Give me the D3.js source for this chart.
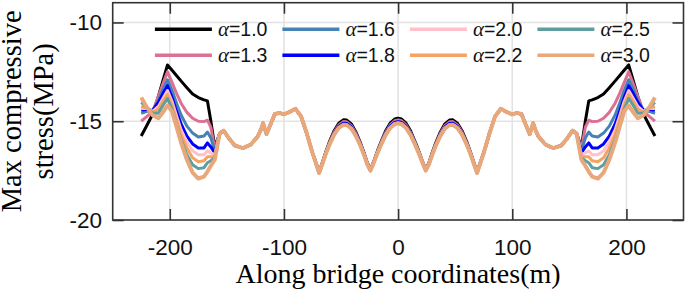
<!DOCTYPE html>
<html lang="en">
<head>
<meta charset="utf-8">
<script src="https://d3js.org/d3.v7.min.js"></script>
<style>
  body { margin: 0; background: #fff; }
  .tick text { font-family: "Liberation Sans", Arial, sans-serif; font-size: 22.5px; fill: #111; }
</style>
</head>
<body>
<svg width="685" height="297" id="chart"></svg>
<script>
// series labels and colours
var alphas = ["1.0", "1.3", "1.6", "1.8", "2.0", "2.2", "2.5", "3.0"];
var colors = ["#000000", "#db7093", "#4682b4", "#0000ff", "#ffc0cb", "#f4a460", "#5f9ea0", "#e8a87c"];

// x positions (m) of the pieces of each curve
var xLeft = [-225, -220, -215, -210, -206, -202, -198, -194, -190, -185, -180, -175, -170, -167, -164, -160.6];
var xRight = [160.6, 164, 167, 170, 175, 180, 185, 190, 194, 198, 202, 206, 210, 215, 220, 225];
var xOuterL = [-156.3, -152.8, -148, -143, -136, -129, -123, -120, -118.3, -115.3, -112, -108, -104, -100, -95, -90, -85, -80, -75];
var xArch = [-69.2, -66, -63, -60, -56, -52, -48, -45, -41, -37, -33, -30, -27, -24.2, -21, -18, -15, -11, -7, -3, 0,
  3, 7, 11, 15, 18, 21, 24.2, 27, 30, 33, 37, 41, 45, 48, 52, 56, 60, 63, 66, 69.2];
var xOuterR = [75, 80, 85, 90, 95, 100, 104, 108, 112, 115.3, 118.3, 120, 123, 129, 136, 143, 148, 152.8, 156.3];

// side spans, stress (MPa), same for all alpha
var outerL = [-15.62, -15.47, -15.88, -16.23, -16.36, -16.18, -15.78, -15.4, -15.1, -15.65, -15.2, -14.63, -14.58, -14.65, -14.53, -14.37, -14.75, -15.62, -16.6];
var outerR = [-16.6, -15.62, -14.75, -14.37, -14.53, -14.65, -14.58, -14.63, -15.2, -15.65, -15.1, -15.4, -15.78, -16.18, -16.36, -16.23, -15.88, -15.47, -15.62];

// central arches, stress (MPa)
var arch10 = [-17.57, -17.03, -16.49, -16.02, -15.48, -15.10, -14.93, -14.94, -15.13, -15.54, -16.09, -16.57, -17.1, -17.45, -16.98, -16.49, -16.05, -15.5, -15.1, -14.89, -14.85,
  -14.89, -15.1, -15.5, -16.05, -16.49, -16.98, -17.45, -17.1, -16.57, -16.09, -15.54, -15.13, -14.94, -14.93, -15.10, -15.48, -16.02, -16.49, -17.03, -17.57];
var arch13 = [-17.59, -17.05, -16.53, -16.07, -15.55, -15.19, -15.02, -15.03, -15.22, -15.61, -16.14, -16.61, -17.13, -17.47, -17.0, -16.53, -16.1, -15.57, -15.19, -14.98, -14.94,
  -14.98, -15.19, -15.57, -16.1, -16.53, -17.0, -17.47, -17.13, -16.61, -16.14, -15.61, -15.22, -15.03, -15.02, -15.19, -15.55, -16.07, -16.53, -17.05, -17.59];
var arch16 = [-17.60, -17.08, -16.56, -16.12, -15.62, -15.26, -15.10, -15.11, -15.29, -15.68, -16.19, -16.64, -17.16, -17.48, -17.03, -16.56, -16.15, -15.64, -15.26, -15.06, -15.02,
  -15.06, -15.26, -15.64, -16.15, -16.56, -17.03, -17.48, -17.16, -16.64, -16.19, -15.68, -15.29, -15.11, -15.10, -15.26, -15.62, -16.12, -16.56, -17.08, -17.60];
var arch20 = [-17.62, -17.1, -16.6, -16.17, -15.68, -15.34, -15.18, -15.19, -15.37, -15.74, -16.24, -16.68, -17.18, -17.5, -17.05, -16.6, -16.2, -15.7, -15.34, -15.14, -15.1,
  -15.14, -15.34, -15.7, -16.2, -16.6, -17.05, -17.5, -17.18, -16.68, -16.24, -15.74, -15.37, -15.19, -15.18, -15.34, -15.68, -16.17, -16.6, -17.1, -17.62];

// pylon regions, stress (MPa)
var left10 = [-15.75, -15.2, -14.65, -13.75, -12.95, -12.15, -12.42, -12.7, -12.97, -13.3, -13.62, -13.8, -13.92, -13.97, -15.0, -16.3];
var right10 = [-16.3, -15.0, -13.97, -13.92, -13.8, -13.62, -13.3, -12.97, -12.7, -12.42, -12.15, -12.95, -13.75, -14.65, -15.2, -15.75];
var left13 = [-15.0, -14.75, -14.5, -13.75, -13.1, -12.5, -13.05, -13.6, -14.1, -14.55, -14.85, -15.0, -15.02, -14.95, -15.3, -16.4];
var right13 = [-16.4, -15.3, -14.95, -15.02, -15.0, -14.85, -14.55, -14.1, -13.6, -13.05, -12.5, -13.1, -13.75, -14.5, -14.75, -15.0];
var left16 = [-14.6, -14.5, -14.5, -13.95, -13.4, -12.9, -13.45, -14.1, -14.7, -15.25, -15.6, -15.8, -15.75, -15.55, -15.85, -16.5];
var right16 = [-16.5, -15.85, -15.55, -15.75, -15.8, -15.6, -15.25, -14.7, -14.1, -13.45, -12.9, -13.4, -13.95, -14.5, -14.5, -14.6];
var left18 = [-14.45, -14.4, -14.45, -14.05, -13.6, -13.2, -13.8, -14.5, -15.15, -15.75, -16.15, -16.35, -16.35, -16.1, -16.3, -16.6];
var right18 = [-16.6, -16.3, -16.1, -16.35, -16.35, -16.15, -15.75, -15.15, -14.5, -13.8, -13.2, -13.6, -14.05, -14.45, -14.4, -14.45];
var left20 = [-14.35, -14.35, -14.5, -14.25, -13.85, -13.45, -14.0, -14.75, -15.45, -16.05, -16.5, -16.7, -16.7, -16.5, -16.6, -16.7];
var right20 = [-16.7, -16.6, -16.5, -16.7, -16.7, -16.5, -16.05, -15.45, -14.75, -14.0, -13.45, -13.85, -14.25, -14.5, -14.35, -14.35];
var left22 = [-14.25, -14.35, -14.55, -14.4, -14.0, -13.65, -14.2, -14.95, -15.7, -16.35, -16.85, -17.05, -17.0, -16.8, -16.8, -16.8];
var right22 = [-16.8, -16.8, -16.8, -17.0, -17.05, -16.85, -16.35, -15.7, -14.95, -14.2, -13.65, -14.0, -14.4, -14.55, -14.35, -14.25];
var left25 = [-14.05, -14.3, -14.6, -14.6, -14.2, -13.85, -14.4, -15.2, -15.95, -16.7, -17.2, -17.4, -17.35, -17.1, -17.0, -16.85];
var right25 = [-16.85, -17.0, -17.1, -17.35, -17.4, -17.2, -16.7, -15.95, -15.2, -14.4, -13.85, -14.2, -14.6, -14.6, -14.3, -14.05];
var left30 = [-13.8, -14.3, -14.7, -14.85, -14.55, -14.2, -14.5, -15.3, -16.1, -16.95, -17.6, -17.9, -17.8, -17.55, -17.25, -16.95];
var right30 = [-16.95, -17.25, -17.55, -17.8, -17.9, -17.6, -16.95, -16.1, -15.3, -14.5, -14.2, -14.55, -14.85, -14.7, -14.3, -13.8];

var xTicks = [-200, -100, 0, 100, 200];
var yTicks = [-20, -15, -10];

var pieces = [
  [left10, arch10, right10], [left13, arch13, right13], [left16, arch16, right16], [left18, arch16, right18],
  [left20, arch20, right20], [left22, arch20, right22], [left25, arch20, right25], [left30, arch20, right30]
];
var xAll = xLeft.concat(xOuterL, xArch, xOuterR, xRight);
var series = pieces.map(function (p, i) {
  var v = p[0].concat(outerL, p[1], outerR, p[2]);
  return { name: alphas[i], color: colors[i], values: xAll.map(function (x, j) { return { x: x, y: v[j] }; }) };
});

var svg = d3.select("#chart");
var pL = 112.7, pR = 683.5, pT = 2.7, pB = 220;

var x = d3.scaleLinear().domain([-250, 250]).range([pL, pR]);
var y = d3.scaleLinear().domain([-20, -9]).range([pB, pT]);

// grid
var grid = svg.append("g").attr("stroke", "#e3e3e3").attr("stroke-width", 1.6);
grid.selectAll(".gx").data(xTicks).enter().append("line")
  .attr("x1", d => x(d)).attr("x2", d => x(d)).attr("y1", pT).attr("y2", pB);
grid.selectAll(".gy").data([-15, -10]).enter().append("line")
  .attr("y1", d => y(d)).attr("y2", d => y(d)).attr("x1", pL).attr("x2", pR);

svg.append("clipPath").attr("id", "clip").append("rect")
  .attr("x", pL).attr("y", pT).attr("width", pR - pL).attr("height", pB - pT);

var line = d3.line().x(d => x(d.x)).y(d => y(d.y));
svg.append("g").attr("clip-path", "url(#clip)")
  .selectAll("path").data(series).enter().append("path")
  .attr("fill", "none")
  .attr("stroke", d => d.color)
  .attr("stroke-width", (d, i) => i === 7 ? 4 : 3)
  .attr("stroke-linejoin", "round")
  .attr("d", d => line(d.values));

// axes, ticks pointing inwards on all sides
var xMinor = d3.range(-240, 241, 20).filter(d => xTicks.indexOf(d) < 0);
var yMinor = d3.range(-19, -9, 1).filter(d => yTicks.indexOf(d) < 0);
var fmt = d => String(d);

function drawAxis(axisFn, scale, pos, major, minor, labels, pad) {
  var g = svg.append("g").attr("transform", pos);
  g.call(axisFn(scale).tickValues(minor).tickSize(-6).tickFormat(""));
  g.call(axisFn(scale).tickValues(major).tickSize(-11).tickPadding(pad).tickFormat(labels ? fmt : ""));
  g.selectAll(".domain").remove();
  g.selectAll("line").attr("stroke", "#333").attr("stroke-width", 1.6);
  g.attr("font-family", null).attr("font-size", null);
  return g;
}
drawAxis(d3.axisBottom, x, "translate(0," + pB + ")", xTicks, xMinor, true, 19);
drawAxis(d3.axisTop, x, "translate(0," + pT + ")", xTicks, xMinor, false, 3);
drawAxis(d3.axisLeft, y, "translate(" + pL + ",0)", yTicks, yMinor, true, 10.7);
drawAxis(d3.axisRight, y, "translate(" + pR + ",0)", yTicks, yMinor, false, 3);

svg.append("rect")
  .attr("x", pL).attr("y", pT).attr("width", pR - pL).attr("height", pB - pT)
  .attr("fill", "none").attr("stroke", "#333").attr("stroke-width", 1.6);

// axis titles
svg.append("text")
  .attr("x", (pL + pR) / 2).attr("y", 283)
  .attr("text-anchor", "middle")
  .style("font-family", "'Liberation Serif', 'Times New Roman', serif").style("font-size", "28px")
  .text("Along bridge coordinates(m)");

var yl = svg.append("text")
  .attr("transform", "translate(0," + ((pT + pB) / 2) + ") rotate(-90)")
  .attr("text-anchor", "middle")
  .style("font-family", "'Liberation Serif', 'Times New Roman', serif").style("font-size", "28.5px");
yl.append("tspan").attr("x", 0).attr("y", 21).text("Max compressive");
yl.append("tspan").attr("x", 0).attr("y", 53).text("stress(MPa)");

// legend
var legend = svg.append("g").selectAll("g").data(series).enter().append("g")
  .attr("transform", (d, i) => "translate(" + (154.9 + Math.floor(i / 2) * 127.5) + "," + (i % 2 === 0 ? 29.3 : 55.3) + ")");
legend.append("line").attr("x1", 0).attr("x2", 57).attr("stroke", d => d.color).attr("stroke-width", 3.5);
var lt = legend.append("text").attr("x", 63).attr("dy", "0.35em")
  .style("font-family", "'Liberation Sans', Arial, sans-serif").style("font-size", "19.5px").attr("fill", "#111");
lt.append("tspan").style("font-family", "'Liberation Serif', serif").style("font-style", "italic").style("font-size", "21px").text("\u03b1");
lt.append("tspan").text(d => "=" + d.name);
</script>
</body>
</html>
